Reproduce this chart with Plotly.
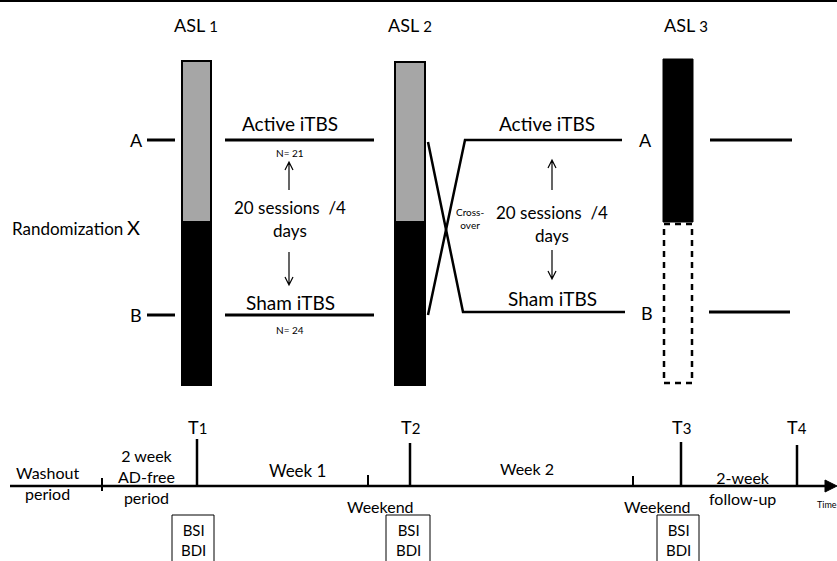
import plotly.graph_objects as go

W, H = 837, 561
FONT = "Lato"

# ---- diagram content (labels and their anchor coordinates, in pixel space) ----
asl_labels = ["ASL", "ASL", "ASL"]
asl_nums = ["1", "2", "3"]
asl_x = [196, 410, 686]
bar_left = [182, 395, 663]
bar_right = [211, 425, 693]
bar_top = [61, 62, 59]
bar_split = [222, 222, 222]
bar_bottom = [385, 385, 383]

arm_labels = ["A", "B"]
arm_y = [140, 315]

condition_labels = ["Active iTBS", "Sham iTBS"]
n_labels = ["N= 21", "N= 24"]
session_lines = ["20 sessions  /4", "days"]

time_labels = ["T1", "T2", "T3", "T4"]
time_x = [197, 410, 681, 797]
time_top = [439, 443, 442, 445]
minor_tick_x = [102, 368, 633]
minor_tick_top = [478, 475, 476]

period_texts = ["Washout<br>period", "2 week<br>AD-free<br>period", "Week 1", "Weekend",
                "Week 2", "Weekend", "2-week<br>follow-up", "Time"]
period_x = [47, 146, 297, 380, 527, 657, 742, 815]
period_y = [483, 476, 470, 506, 468, 506, 488, 504]
period_size = [16, 16, 17, 16, 16, 16, 16, 9]
period_anchor = ["center"] * 7 + ["left"]

box_text = "BSI<br>BDI"
box_left = [172, 386, 657]
box_right = [214, 430, 699]

AXIS_Y = 486

fig = go.Figure()
shapes = []
ann = []

def line(x0, y0, x1, y1, w=3, dash="solid", color="black"):
    shapes.append(dict(type="line", xref="x", yref="y", x0=x0, y0=y0, x1=x1, y1=y1,
                       line=dict(color=color, width=w, dash=dash)))

def text(x, y, t, size=16, xanchor="center", color="black"):
    ann.append(dict(x=x, y=y, xref="x", yref="y", text=t, showarrow=False,
                    font=dict(family=FONT, size=size, color=color),
                    xanchor=xanchor, yanchor="middle"))

# top border
line(0, 1, W, 1, w=2)

# ASL headers
for lab, num, x in zip(asl_labels, asl_nums, asl_x):
    text(x, 25, f"{lab} <span style='font-size:15px'>{num}</span>", size=18)

# bars 1 & 2 : grey top, black bottom
for i in range(2):
    shapes.append(dict(type="rect", xref="x", yref="y", x0=bar_left[i], x1=bar_right[i],
                       y0=bar_top[i], y1=bar_split[i], fillcolor="#a6a6a6",
                       line=dict(color="black", width=2)))
    shapes.append(dict(type="rect", xref="x", yref="y", x0=bar_left[i], x1=bar_right[i],
                       y0=bar_split[i], y1=bar_bottom[i], fillcolor="black",
                       line=dict(color="black", width=2)))
# bar 3 : black top, dashed empty bottom
shapes.append(dict(type="rect", xref="x", yref="y", x0=bar_left[2], x1=bar_right[2],
                   y0=bar_top[2], y1=bar_split[2], fillcolor="black",
                   line=dict(color="black", width=1)))
shapes.append(dict(type="rect", xref="x", yref="y", x0=bar_left[2] + 1, x1=bar_right[2] - 1,
                   y0=bar_split[2] + 2, y1=bar_bottom[2], fillcolor="rgba(0,0,0,0)",
                   line=dict(color="black", width=2.5, dash="6px,5px")))

# A / B on left
for lab, y in zip(arm_labels, arm_y):
    text(136, y, lab, size=18)
    line(147, y, 175, y)

text(10, 228, "Randomization", size=17, xanchor="left")
text(133, 227, "X", size=20, xanchor="center")

# period 1 arms
line(225, arm_y[0], 374, arm_y[0])
line(225, arm_y[1], 374, arm_y[1])
text(290, 123, condition_labels[0], size=19)
text(290, 302, condition_labels[1], size=19)
text(290, 153, n_labels[0], size=10)
text(290, 330, n_labels[1], size=10)
text(290, 207, session_lines[0], size=17)
text(290, 230, session_lines[1], size=17)

def arrow(x, y_from, y_to):
    d = -1 if y_to < y_from else 1
    shapes.append(dict(type="path", xref="x", yref="y",
                       path=f"M{x},{y_from} L{x},{y_to} M{x-4},{y_to - d*8} L{x},{y_to} L{x+4},{y_to - d*8}",
                       line=dict(color="black", width=1.2)))

arrow(289, 190, 162)
arrow(289, 252, 285)

# crossover
shapes.append(dict(type="path", xref="x", yref="y",
                   path="M428,142 L463,312 L625,312", line=dict(color="black", width=2.5)))
shapes.append(dict(type="path", xref="x", yref="y",
                   path="M428,315 L465,140 L622,140", line=dict(color="black", width=2.5)))
text(470, 218, "Cross-<br>over", size=10)

# period 2 labels
text(547, 123, condition_labels[0], size=19)
text(552, 298, condition_labels[1], size=19)
text(552, 212, session_lines[0], size=17)
text(552, 235, session_lines[1], size=17)
arrow(552, 190, 160)
arrow(552, 250, 279)

text(645, 140, arm_labels[0], size=18)
text(647, 313, arm_labels[1], size=18)
line(710, arm_y[0], 792, arm_y[0])
line(709, 312, 790, 312)

# timeline
line(10, AXIS_Y, 826, AXIS_Y, w=2.5)
shapes.append(dict(type="path", xref="x", yref="y",
                   path=f"M825,{AXIS_Y-6} L837,{AXIS_Y} L825,{AXIS_Y+6} Z",
                   fillcolor="black", line=dict(color="black", width=1)))
for x, top in zip(minor_tick_x, minor_tick_top):
    line(x, top, x, AXIS_Y + (5 if x == minor_tick_x[0] else 0), w=2)
for lab, x, top in zip(time_labels, time_x, time_top):
    line(x, top, x, AXIS_Y, w=2.5)
    text(x, 427, f"{lab[0]}<span style='font-size:15px'>{lab[1]}</span>", size=18)

for t, x, y, s, a in zip(period_texts, period_x, period_y, period_size, period_anchor):
    text(x, y, t, size=s, xanchor=a)

# assessment boxes
for x0, x1 in zip(box_left, box_right):
    shapes.append(dict(type="rect", xref="x", yref="y", x0=x0, x1=x1, y0=515, y1=570,
                       line=dict(color="black", width=1), fillcolor="rgba(0,0,0,0)"))
    text((x0 + x1) / 2, 540, box_text, size=15)

fig.update_layout(
    width=W, height=H, margin=dict(l=0, r=0, t=0, b=0),
    paper_bgcolor="white", plot_bgcolor="white",
    xaxis=dict(range=[0, W], visible=False, fixedrange=True),
    yaxis=dict(range=[H, 0], visible=False, fixedrange=True),
    shapes=shapes, annotations=ann, showlegend=False,
)
fig.write_html("out.html", config={"displayModeBar": False},
               post_script="document.body.style.margin='0px';document.body.style.overflow='hidden';")
